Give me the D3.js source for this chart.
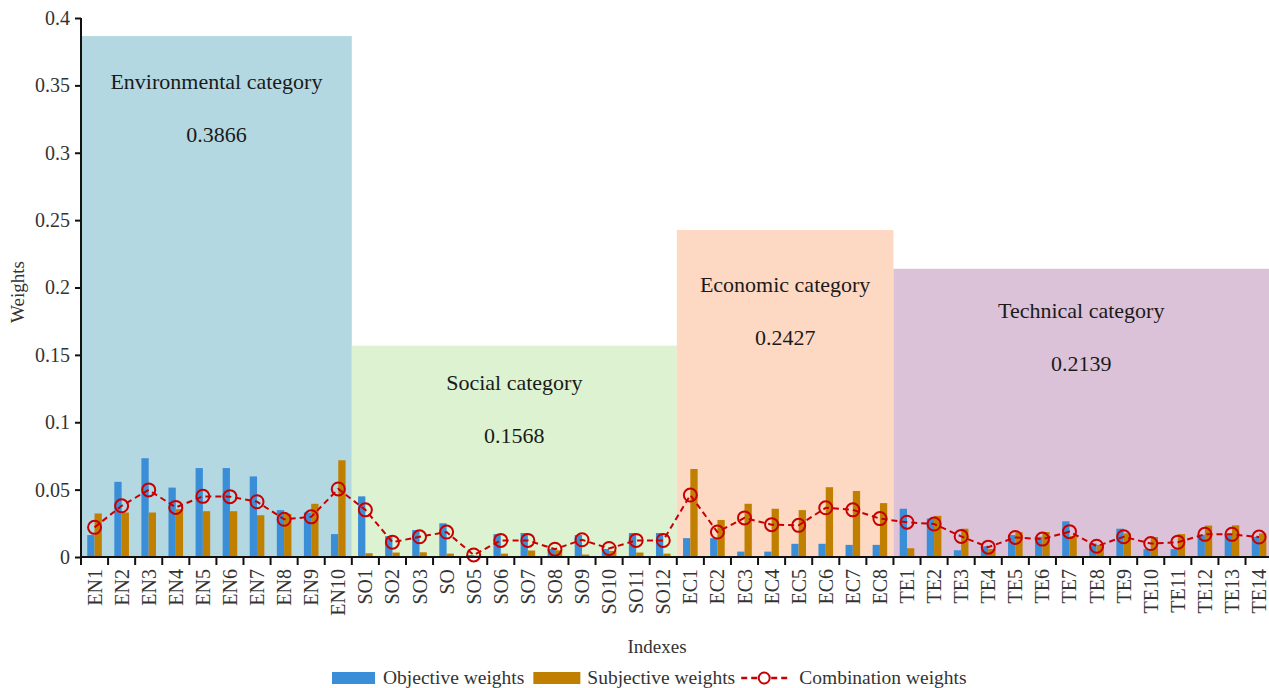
<!DOCTYPE html>
<html>
<head>
<meta charset="utf-8">
<script src="https://cdn.jsdelivr.net/npm/d3@7/dist/d3.min.js"></script>
<style>
  html, body { margin: 0; padding: 0; background: #fff; }
  svg { display: block; }
  svg text { font-family: "Liberation Serif", "DejaVu Serif", serif; }
</style>
</head>
<body>
<svg id="chart" width="1269" height="688"></svg>
<script>
// Index codes along the x axis
const categories = [
  "EN1","EN2","EN3","EN4","EN5","EN6","EN7","EN8","EN9","EN10",
  "SO1","SO2","SO3","SO","SO5","SO6","SO7","SO8","SO9","SO10","SO11","SO12",
  "EC1","EC2","EC3","EC4","EC5","EC6","EC7","EC8",
  "TE1","TE2","TE3","TE4","TE5","TE6","TE7","TE8","TE9","TE10","TE11","TE12","TE13","TE14"
];

// Objective weights
const objective = [
  0.0163,0.0558,0.0733,0.0515,0.0660,0.0660,0.0598,0.0348,0.0330,0.0170,
  0.0450,0.0155,0.0200,0.0250,0.0015,0.0170,0.0178,0.0060,0.0163,0.0060,0.0178,0.0178,
  0.0140,0.0140,0.0040,0.0040,0.0098,0.0098,0.0090,0.0090,
  0.0358,0.0285,0.0050,0.0080,0.0163,0.0150,0.0265,0.0100,0.0210,0.0058,0.0058,0.0165,0.0163,0.0150
];

// Subjective weights
const subjective = [
  0.0323,0.0330,0.0330,0.0355,0.0340,0.0340,0.0310,0.0320,0.0395,0.0718,
  0.0028,0.0033,0.0035,0.0025,0.0010,0.0025,0.0048,0.0050,0.0018,0.0045,0.0033,0.0025,
  0.0653,0.0275,0.0395,0.0358,0.0348,0.0518,0.0490,0.0400,
  0.0065,0.0305,0.0210,0.0060,0.0185,0.0185,0.0155,0.0090,0.0175,0.0148,0.0170,0.0233,0.0235,0.0175
];

// Combination weights
const combination = [
  0.0220,0.0380,0.0498,0.0368,0.0450,0.0448,0.0410,0.0280,0.0298,0.0505,
  0.0350,0.0110,0.0150,0.0185,0.0015,0.0123,0.0123,0.0058,0.0128,0.0063,0.0123,0.0123,
  0.0460,0.0185,0.0290,0.0240,0.0235,0.0365,0.0350,0.0285,
  0.0258,0.0245,0.0153,0.0073,0.0145,0.0133,0.0188,0.0080,0.0150,0.0100,0.0110,0.0168,0.0168,0.0148
];

// Category groups and their total weights
const groupNames  = ["Environmental category","Social category","Economic category","Technical category"];
const groupTotals = [0.3866, 0.1568, 0.2427, 0.2139];
const groupFirst  = ["EN1","SO1","EC1","TE1"];
const groupLast   = ["EN10","SO12","EC8","TE14"];

// Y axis ticks
const yTicks = [0, 0.05, 0.1, 0.15, 0.2, 0.25, 0.3, 0.35, 0.4];

// ---- layout ----
const svg = d3.select("#chart");
const plotLeft = 81, plotRight = 1272.6, plotTop = 18, plotBottom = 557;
const font = "Liberation Serif, DejaVu Serif, serif";

const groupColors = ["#b4d8e1", "#dcf2d1", "#fdd9c4", "#dbc2d8"];
const objColor = "#3a8ed8", subjColor = "#c17f00", comboColor = "#c80000";
// vertical placement of the category caption below each region's top edge
const captionDy = [53, 44, 62, 49];

const x = d3.scaleBand().domain(categories).range([plotLeft, plotRight]).padding(0);
const xInner = d3.scaleBand().domain(["obj", "subj"]).range([0, x.bandwidth()])
  .paddingInner(0).paddingOuter(0.855);
const y = d3.scaleLinear().domain([0, 0.4]).range([plotBottom, plotTop]);

// category background regions
const regions = svg.append("g");
groupNames.forEach((name, i) => {
  const x0 = x(groupFirst[i]);
  const x1 = x(groupLast[i]) + x.bandwidth();
  const yTop = y(groupTotals[i]);
  regions.append("rect")
    .attr("x", x0).attr("y", yTop)
    .attr("width", x1 - x0).attr("height", plotBottom - yTop)
    .attr("fill", groupColors[i]);
  const cx = (x0 + Math.min(x1, 1269)) / 2;
  regions.append("text")
    .attr("x", cx).attr("y", yTop + captionDy[i])
    .attr("text-anchor", "middle")
    .attr("font-family", font).attr("font-size", 22).attr("fill", "#1a1a1a")
    .text(name);
  regions.append("text")
    .attr("x", cx).attr("y", yTop + captionDy[i] + 53)
    .attr("text-anchor", "middle")
    .attr("font-family", font).attr("font-size", 22).attr("fill", "#1a1a1a")
    .text(groupTotals[i].toFixed(4));
});

// bars
const bars = svg.append("g");
bars.selectAll("rect.obj").data(categories).join("rect")
  .attr("class", "obj")
  .attr("x", d => x(d) + xInner("obj"))
  .attr("y", (d, i) => y(objective[i]))
  .attr("width", xInner.bandwidth())
  .attr("height", (d, i) => plotBottom - y(objective[i]))
  .attr("fill", objColor);
bars.selectAll("rect.subj").data(categories).join("rect")
  .attr("class", "subj")
  .attr("x", d => x(d) + xInner("subj"))
  .attr("y", (d, i) => y(subjective[i]))
  .attr("width", xInner.bandwidth())
  .attr("height", (d, i) => plotBottom - y(subjective[i]))
  .attr("fill", subjColor);

// combination line with hollow circle markers
const comboPts = categories.map((c, i) => [x(c) + x.bandwidth() / 2, y(combination[i])]);
svg.append("path")
  .attr("d", d3.line()(comboPts))
  .attr("fill", "none")
  .attr("stroke", comboColor)
  .attr("stroke-width", 2)
  .attr("stroke-dasharray", "6,4");
svg.append("g").selectAll("circle").data(comboPts).join("circle")
  .attr("cx", d => d[0]).attr("cy", d => d[1]).attr("r", 6.5)
  .attr("fill", "none").attr("stroke", comboColor).attr("stroke-width", 2);

// y axis
const yAxis = svg.append("g")
  .attr("transform", `translate(${plotLeft},0)`)
  .call(d3.axisLeft(y).tickValues(yTicks).tickSize(6).tickPadding(5)
    .tickFormat(d => d === 0 ? "0" : String(+d.toFixed(2))));
yAxis.attr("font-family", font).attr("font-size", 20);
yAxis.select(".domain").attr("stroke", "#111").attr("stroke-width", 2)
  .attr("d", `M0,${plotTop}V${plotBottom}`);
yAxis.selectAll(".tick line").attr("stroke", "#111").attr("stroke-width", 2);
yAxis.selectAll(".tick text").attr("fill", "#333");

// x axis: line, boundary ticks and rotated labels
const xAxis = svg.append("g");
xAxis.append("line")
  .attr("x1", plotLeft - 1).attr("x2", 1269).attr("y1", plotBottom).attr("y2", plotBottom)
  .attr("stroke", "#111").attr("stroke-width", 2);
const boundaries = categories.map(c => x(c)).concat([plotRight]);
xAxis.selectAll("line.tick").data(boundaries).join("line")
  .attr("class", "tick")
  .attr("x1", d => d).attr("x2", d => d)
  .attr("y1", plotBottom).attr("y2", plotBottom + 8)
  .attr("stroke", "#111").attr("stroke-width", 2);
xAxis.selectAll("text").data(categories).join("text")
  .attr("transform", d => `translate(${x(d) + x.bandwidth() / 2},${plotBottom + 12}) rotate(-90)`)
  .attr("text-anchor", "end")
  .attr("dy", "0.35em")
  .attr("font-family", font).attr("font-size", 20).attr("fill", "#333")
  .text(d => d);

// axis titles
svg.append("text")
  .attr("x", 657).attr("y", 653)
  .attr("text-anchor", "middle")
  .attr("font-family", font).attr("font-size", 19).attr("fill", "#333")
  .text("Indexes");
svg.append("text")
  .attr("transform", "translate(24,292) rotate(-90)")
  .attr("text-anchor", "middle")
  .attr("font-family", font).attr("font-size", 19).attr("fill", "#333")
  .text("Weights");

// legend
const legend = svg.append("g").attr("transform", "translate(332,678)");
let lx = 0;
function legendText(label) {
  const t = legend.append("text").attr("x", lx).attr("y", 6)
    .attr("font-family", font).attr("font-size", 19.5).attr("fill", "#333").text(label);
  lx += t.node().getComputedTextLength();
}
legend.append("rect").attr("x", lx).attr("y", -6).attr("width", 43).attr("height", 12).attr("fill", objColor);
lx += 51;
legendText("Objective weights");
lx += 9;
legend.append("rect").attr("x", lx).attr("y", -6).attr("width", 47).attr("height", 12).attr("fill", subjColor);
lx += 54;
legendText("Subjective weights");
lx += 6;
legend.append("line").attr("x1", lx).attr("x2", lx + 46).attr("y1", 0).attr("y2", 0)
  .attr("stroke", comboColor).attr("stroke-width", 2.5).attr("stroke-dasharray", "6,4");
legend.append("circle").attr("cx", lx + 23).attr("cy", 0).attr("r", 5.5)
  .attr("fill", "#fff").attr("stroke", comboColor).attr("stroke-width", 2);
lx += 58;
legendText("Combination weights");
</script>
</body>
</html>
